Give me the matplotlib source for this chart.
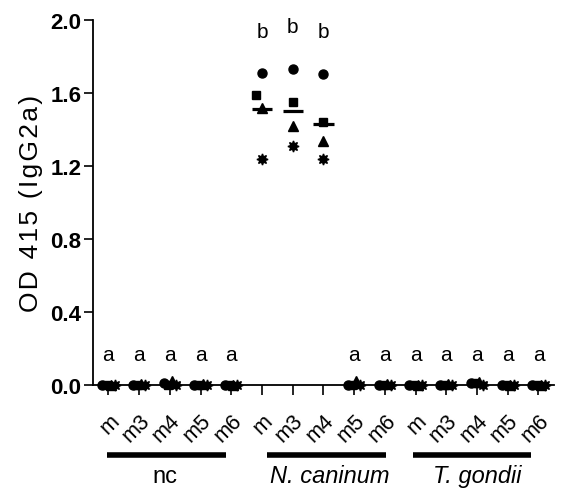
import matplotlib
matplotlib.use("Agg")
import matplotlib.pyplot as plt
import matplotlib.transforms as mtransforms

plt.rcParams["font.family"] = ["Liberation Sans", "DejaVu Sans"]

tick_labels = ["m", "m3", "m4", "m5", "m6"] * 3
groups = ["nc", "N. caninum", "T. gondii"]

# one value per mouse symbol: circle, square, triangle, star
circle = [0.0, 0.0, 0.01, 0.0, 0.0, 1.71, 1.73, 1.705, 0.0, 0.0, 0.0, 0.0, 0.01, 0.0, 0.0]
square = [0.0, 0.0, 0.0, 0.0, 0.0, 1.59, 1.55, 1.44, 0.0, 0.0, 0.0, 0.0, 0.01, 0.0, 0.0]
triangle = [0.0, 0.005, 0.02, 0.005, 0.0, 1.52, 1.42, 1.34, 0.02, 0.005, 0.0, 0.005, 0.015, 0.0, 0.0]
star = [0.0, 0.0, 0.0, 0.0, 0.0, 1.24, 1.31, 1.24, 0.0, 0.0, 0.0, 0.0, 0.0, 0.0, 0.0]
means = [0.0, 0.0, 0.01, 0.0, 0.0, 1.515, 1.50, 1.43, 0.005, 0.0, 0.0, 0.0, 0.01, 0.0, 0.0]

letters = ["a"] * 5 + ["b"] * 3 + ["a"] * 7
letter_y = [0.17] * 5 + [1.94, 1.965, 1.94] + [0.17] * 7

fig = plt.figure(figsize=(5.64, 5.02), dpi=100)
ax = fig.add_axes([0.165, 0.231, 0.817, 0.727])

x = list(range(len(tick_labels)))
series = [(circle, "o", 6.5), (square, "s", 6.2), (triangle, "^", 7), (star, (8, 1, 0), 8)]
zero_shift = [-0.2, -0.07, 0.07, 0.2]

for k, (vals, mk, ms) in enumerate(series):
    xs = []
    for i, v in enumerate(vals):
        if means[i] > 0.5:
            dx = -0.2 if (i == 5 and mk == "s") else 0.0
        else:
            dx = zero_shift[k]
        xs.append(i + dx)
    ax.plot(xs, vals, linestyle="none", marker=mk, markersize=ms,
            color="black", clip_on=False, zorder=3)

for i, m in enumerate(means):
    ax.plot([i - 0.33, i + 0.33], [m, m], color="black", lw=2.3,
            solid_capstyle="butt", clip_on=False, zorder=4)

for i, (t, yy) in enumerate(zip(letters, letter_y)):
    ax.text(i, yy, t, ha="center", va="center", fontsize=15)

ax.set_xlim(-0.5, 14.5)
ax.set_ylim(0, 2.0)
ax.set_yticks([0.0, 0.4, 0.8, 1.2, 1.6, 2.0])
ax.set_yticklabels(["%.1f" % v for v in [0.0, 0.4, 0.8, 1.2, 1.6, 2.0]],
                   fontsize=16, fontweight="bold")
ax.set_xticks(x)
ax.set_xticklabels(tick_labels, rotation=45, ha="right", va="top",
                   rotation_mode="anchor", fontsize=15.5)
ax.tick_params(axis="x", length=7, width=1.2, pad=11)
ax.tick_params(axis="y", length=6.5, width=1.2, pad=2)
for s in ["top", "right"]:
    ax.spines[s].set_visible(False)
for s in ["left", "bottom"]:
    ax.spines[s].set_linewidth(1.3)

ax.set_ylabel("O\u200aD\u200a \u200a4\u200a1\u200a5\u200a \u200a(\u200aI\u200ag\u200aG\u200a2\u200aa\u200a)",
              fontsize=19, labelpad=5)

trans = mtransforms.blended_transform_factory(ax.transData, ax.transAxes)
bar_centers = [1.9, 7.09, 11.83]
text_centers = [1.85, 7.2, 12.0]
for c, tc, name in zip(bar_centers, text_centers, groups):
    ax.plot([c - 1.93, c + 1.93], [-0.192, -0.192], color="black", lw=4,
            solid_capstyle="butt", transform=trans, clip_on=False)
    ax.text(tc, -0.249, name, ha="center", va="center", fontsize=17,
            style="normal" if name == "nc" else "italic", transform=trans)

fig.savefig("out.png", dpi=100)
